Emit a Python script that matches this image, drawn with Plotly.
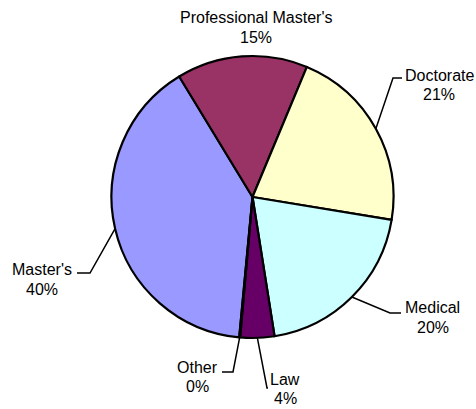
import math
import plotly.graph_objects as go

# ---- data ----
categories = ["Master's", "Professional Master's", "Doctorate", "Medical", "Law", "Other"]
values = [39.8, 15.0, 21.3, 19.9, 3.9, 0.1]
colors = ["#9999FF", "#993366", "#FFFFCC", "#CCFFFF", "#660066", "#FF8080"]

# ---- layout constants (pixels) ----
W, H = 476, 409
CX, CY, R = 252.5, 197.0, 141.0
ROTATION = 185.4  # degrees clockwise from 12 o'clock where the first slice starts
FONT = "Liberation Sans, Arial, sans-serif"
FS = 16

# label line centres (name line y, percent line y) and x centre, in pixels
label_pos = {
    "Master's": (42, 269, 289),
    "Professional Master's": (256, 18, 37),
    "Doctorate": (439, 75, 94),
    "Medical": (432.5, 307.5, 327),
    "Law": (285, 379.5, 398.5),
    "Other": (197, 367.5, 386.5),
}
leaders = {
    "Master's": [(90, 273), (77, 273)],
    "Doctorate": [(393, 78), (402, 78)],
    "Medical": [(390, 313), (401, 313)],
    "Law": [(267, 388), (268, 388)],
    "Other": [(233, 372), (222, 372)],
}


def px(x):
    return x / W


def py(y):
    return 1 - y / H


fig = go.Figure(
    go.Pie(
        labels=categories,
        values=values,
        sort=False,
        direction="clockwise",
        rotation=ROTATION,
        marker=dict(colors=colors, line=dict(color="black", width=2.2)),
        textinfo="none",
        hoverinfo="label+percent",
        domain=dict(x=[px(CX - R), px(CX + R)], y=[py(CY + R), py(CY - R)]),
        showlegend=False,
    )
)

total = sum(values)
angle = ROTATION
shapes = []
annotations = []
for cat, v in zip(categories, values):
    span = 360 * v / total
    mid = math.radians(angle + span / 2)
    angle += span
    pct = round(100 * v / total)
    lx, ly1, ly2 = label_pos[cat]
    for txt, ly in ((cat, ly1), (f"{pct}%", ly2)):
        annotations.append(
            dict(
                x=px(lx), y=py(ly), xref="paper", yref="paper",
                text=txt, showarrow=False, borderpad=0,
                xanchor="center", yanchor="middle",
                font=dict(family=FONT, size=FS, color="black"),
            )
        )
    if cat in leaders:
        ex = CX + R * math.sin(mid)
        ey = CY - R * math.cos(mid)
        pts = [(ex, ey)] + leaders[cat]
        path = "M " + " L ".join(f"{px(a)},{py(b)}" for a, b in pts)
        shapes.append(
            dict(type="path", path=path, xref="paper", yref="paper",
                 line=dict(color="black", width=1.5), layer="below")
        )

fig.update_layout(
    width=W, height=H,
    margin=dict(l=0, r=0, t=0, b=0),
    paper_bgcolor="white", plot_bgcolor="white",
    shapes=shapes, annotations=annotations,
)

fig.write_html(
    "out.html",
    config={"displayModeBar": False},
    post_script="document.body.style.margin='0';document.body.style.overflow='hidden';",
)
